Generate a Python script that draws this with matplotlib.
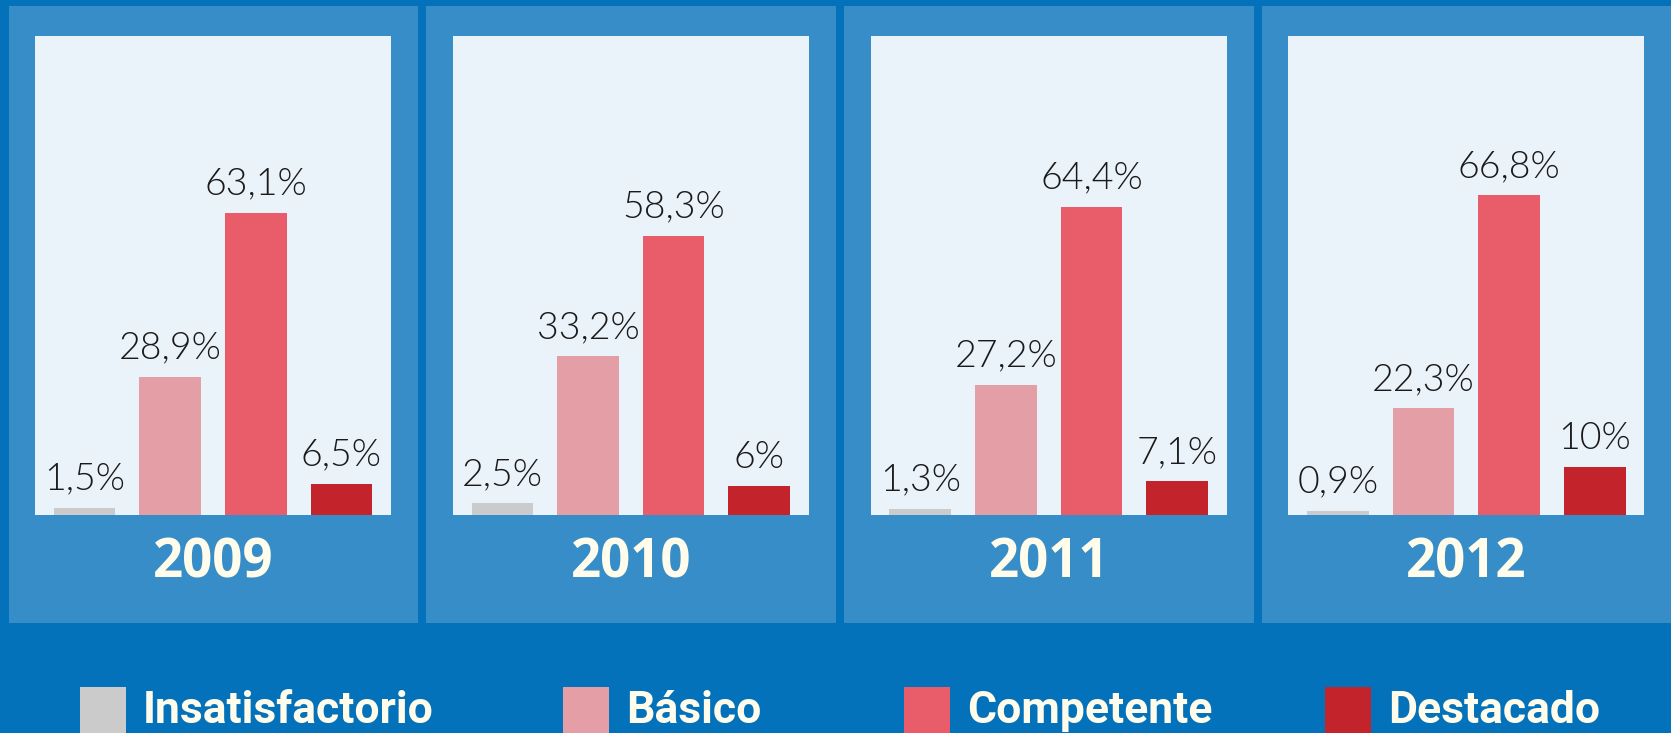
import matplotlib
matplotlib.use("Agg")
import matplotlib.pyplot as plt
from matplotlib.patches import Rectangle

years = ["2009", "2010", "2011", "2012"]
categories = ["Insatisfactorio", "Básico", "Competente", "Destacado"]
insatisfactorio = [1.5, 2.5, 1.3, 0.9]
basico = [28.9, 33.2, 27.2, 22.3]
competente = [63.1, 58.3, 64.4, 66.8]
destacado = [6.5, 6, 7.1, 10]

bar_colors = ["#CBCBCB", "#E49FA6", "#E95C69", "#C3242B"]
bg_color = "#0372BA"
panel_color = "#368DC8"
inner_color = "#EAF2FA"
cream = "#FFFCEB"

W, H = 1671, 733
fig = plt.figure(figsize=(W / 100, H / 100), dpi=100, facecolor=bg_color)


def fx(px):
    return px / W


def fy(py):
    return 1 - py / H


def fmt(v):
    return f"{v:g}".replace(".", ",") + "%"


series = list(zip(insatisfactorio, basico, competente, destacado))
panel_step = 417.8

for i, year in enumerate(years):
    x0 = 8.5 + i * panel_step
    # lighter panel behind each chart
    fig.add_artist(Rectangle((fx(x0), fy(623)), fx(409.5), 617 / H,
                             transform=fig.transFigure, facecolor=panel_color,
                             edgecolor="none", zorder=0))
    ax = fig.add_axes([fx(x0 + 26.5), fy(515), fx(356), 479 / H])
    ax.set_facecolor(inner_color)
    vals = series[i]
    bars = ax.bar(range(4), vals, width=0.72, color=bar_colors)
    for b, v in zip(bars, vals):
        ax.annotate(fmt(v), (b.get_x() + b.get_width() / 2, v),
                    xytext=(0, 13), textcoords="offset points",
                    ha="center", va="baseline", fontsize=27,
                    family="Lato", weight=300, color="#1A1A1A")
    ax.set_xlim(-0.58, 3.58)
    ax.set_ylim(0, 100)
    ax.set_xticks([])
    ax.set_yticks([])
    for s in ax.spines.values():
        s.set_visible(False)
    fig.text(fx(x0 + 204.75), fy(563), year, ha="center", va="center",
             fontsize=38, weight="bold", family="Open Sans", color=cream)

# legend along the bottom (squares run off the bottom edge)
sq_x = [80, 563, 904, 1325]
for x, name, c in zip(sq_x, categories, bar_colors):
    fig.add_artist(Rectangle((fx(x), fy(740)), fx(46), 53 / H,
                             transform=fig.transFigure, facecolor=c,
                             edgecolor="none"))
    fig.text(fx(x + 63), fy(723), name, ha="left", va="baseline",
             fontsize=32, weight="bold", family="Roboto", color=cream)

fig.savefig("out.png", dpi=100, facecolor=bg_color)
